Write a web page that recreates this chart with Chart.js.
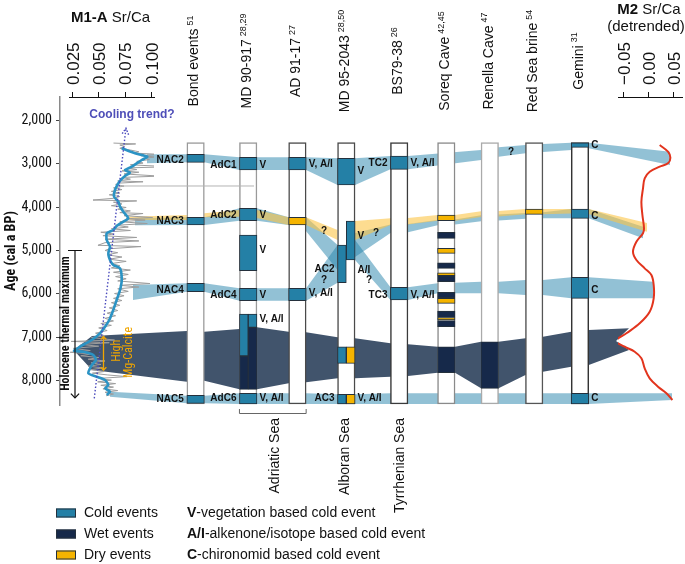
<!DOCTYPE html>
<html>
<head>
<meta charset="utf-8">
<script src="https://cdn.jsdelivr.net/npm/chart.js@4.4.1/dist/chart.umd.min.js"></script>
<style>
  html, body { margin: 0; padding: 0; background: #fff; }
  canvas { display: block; }
</style>
</head>
<body>
<canvas id="chart" width="685" height="564"></canvas>
<script>
// ---- data ----
const ageTicks = [2000, 3000, 4000, 5000, 6000, 7000, 8000];
const m1Ticks = [0.025, 0.05, 0.075, 0.1];
const m2Ticks = [-0.05, 0, 0.05];

const records = ['Bond events', 'MD 90-917', 'AD 91-17', 'MD 95-2043', 'BS79-38', 'Soreq Cave', 'Renella Cave', 'Red Sea brine', 'Gemini'];
const recordRefs = ['51', '28,29', '27', '28,50', '26', '42,45', '47', '54', '31'];
const recordSpan = [2520, 8530];
const seas = ['Adriatic Sea', 'Alboran Sea', 'Tyrrhenian Sea'];

// M1-A Sr/Ca, smoothed
const m1SmoothAge = [2651, 2766, 2844, 2920, 3074, 3149, 3212, 3287, 3418, 3609, 3764, 3878, 3993, 4108, 4260, 4338, 4437, 4529, 4605, 4759, 4913, 5065, 5219, 5334, 5410, 5678, 5908, 6138, 6368, 6598, 6752, 6904, 7058, 7212, 7304, 7327, 7403, 7518, 7633, 7824, 7902, 7977, 8092, 8168, 8246, 8322];
const m1Smooth = [0.0718, 0.0844, 0.0960, 0.0907, 0.0813, 0.0749, 0.0796, 0.0749, 0.0695, 0.0654, 0.0645, 0.0686, 0.0702, 0.0733, 0.0780, 0.0733, 0.0670, 0.0638, 0.0576, 0.0576, 0.0607, 0.0591, 0.0607, 0.0638, 0.0702, 0.0718, 0.0702, 0.0670, 0.0638, 0.0600, 0.0560, 0.0512, 0.0434, 0.0323, 0.0266, 0.0354, 0.0449, 0.0474, 0.0434, 0.0402, 0.0481, 0.0560, 0.0591, 0.0560, 0.0607, 0.0576];

// M1-A Sr/Ca, raw record
const m1RawAge = [2530, 2550, 2575, 2610, 2650, 2690, 2730, 2760, 2790, 2820, 2850, 2880, 2910, 2950, 2990, 3030, 3075, 3100, 3140, 3170, 3200, 3240, 3290, 3320, 3360, 3400, 3420, 3450, 3480, 3520, 3560, 3600, 3640, 3680, 3720, 3760, 3800, 3840, 3860, 3890, 3930, 3970, 4010, 4050, 4090, 4130, 4150, 4200, 4240, 4270, 4300, 4340, 4380, 4420, 4460, 4500, 4540, 4580, 4620, 4660, 4700, 4740, 4780, 4820, 4880, 4910, 4960, 5000, 5050, 5100, 5150, 5200, 5250, 5300, 5350, 5400, 5450, 5500, 5550, 5600, 5650, 5700, 5760, 5800, 5840, 5880, 5940, 5990, 6040, 6100, 6150, 6200, 6260, 6320, 6380, 6440, 6500, 6560, 6620, 6680, 6720, 6780, 6840, 6900, 6960, 7000, 7060, 7090, 7120, 7160, 7200, 7250, 7300, 7340, 7380, 7420, 7460, 7500, 7540, 7580, 7620, 7660, 7700, 7740, 7780, 7820, 7860, 7900, 7940, 7980, 8020, 8060, 8100, 8140, 8180, 8220, 8260, 8300, 8340];
const m1Raw = [0.0640, 0.0850, 0.0700, 0.0745, 0.0700, 0.0800, 0.0880, 0.0830, 0.1080, 0.0900, 0.1040, 0.0930, 0.0980, 0.0860, 0.0920, 0.0800, 0.1175, 0.0780, 0.0860, 0.0720, 0.0880, 0.0740, 0.1080, 0.0720, 0.0800, 0.0680, 0.0920, 0.0700, 0.0660, 0.0740, 0.0640, 0.0720, 0.0620, 0.0700, 0.0600, 0.0700, 0.0640, 0.0446, 0.0860, 0.0640, 0.0720, 0.0620, 0.0760, 0.0680, 0.0800, 0.0700, 0.0920, 0.0740, 0.1010, 0.0760, 0.0940, 0.0700, 0.0960, 0.0660, 0.0780, 0.0620, 0.0800, 0.0520, 0.0640, 0.0540, 0.0860, 0.0560, 0.0880, 0.0560, 0.0493, 0.0900, 0.0600, 0.0560, 0.0680, 0.0580, 0.0720, 0.0600, 0.0760, 0.0620, 0.0700, 0.0620, 0.0800, 0.0640, 0.0780, 0.0660, 0.0760, 0.0680, 0.0986, 0.0700, 0.0880, 0.0680, 0.0780, 0.0650, 0.0740, 0.0640, 0.0720, 0.0620, 0.0700, 0.0600, 0.0680, 0.0580, 0.0660, 0.0560, 0.0640, 0.0520, 0.0620, 0.0500, 0.0580, 0.0470, 0.0560, 0.0430, 0.0650, 0.0240, 0.0600, 0.0330, 0.0500, 0.0260, 0.0420, 0.0230, 0.0430, 0.0330, 0.0500, 0.0400, 0.0560, 0.0430, 0.0520, 0.0400, 0.0540, 0.0420, 0.0560, 0.0440, 0.0580, 0.0768, 0.0500, 0.0620, 0.0490, 0.0660, 0.0520, 0.0640, 0.0540, 0.0680, 0.0560, 0.0640, 0.0570];

// dotted "cooling trend?" line
const coolingAge = [8400, 2190];
const coolingSrCa = [0.0458, 0.0758];

// M2 Sr/Ca (detrended)
const m2Age = [2575, 2728, 2866, 2996, 3073, 3188, 3341, 3571, 3878, 4184, 4490, 4605, 4798, 5028, 5219, 5410, 5563, 5793, 6099, 6407, 6674, 6904, 7081, 7212, 7327, 7479, 7709, 7938, 8131, 8283, 8437];
const m2SrCa = [0.022, 0.0386, 0.0434, 0.0386, 0.022, 0.002, -0.008, -0.0114, -0.0146, -0.0126, -0.0094, -0.0114, -0.0246, -0.0314, -0.0246, -0.008, 0.0054, 0.010, 0.010, 0.002, -0.018, -0.0446, -0.066, -0.048, -0.028, -0.0146, -0.008, 0.002, 0.0186, 0.0354, 0.0474];

// events: [record, start age, end age, part]   part 0 = whole column, 1 = left half, 2 = right half
const coldEvents = [
  [0, 2789, 2973, 0], [0, 4237, 4414, 0], [0, 5755, 5947, 0], [0, 8330, 8513, 0],
  [1, 2858, 3150, 0], [1, 4030, 4315, 0], [1, 4644, 5465, 0], [1, 5870, 6155, 0], [1, 6460, 7426, 1], [1, 6460, 6767, 2], [1, 8283, 8529, 0],
  [2, 2858, 3150, 0], [2, 5870, 6155, 0],
  [3, 2881, 3494, 0], [3, 4874, 5741, 1], [3, 4322, 5219, 2], [3, 7212, 7594, 1], [3, 8306, 8529, 1],
  [4, 2828, 3134, 0], [4, 5847, 6138, 0],
  [8, 2522, 2628, 0], [8, 4046, 4260, 0], [8, 5617, 6100, 0], [8, 8283, 8529, 0]
];
const wetEvents = [
  [1, 7426, 8192, 1], [1, 6767, 8192, 2],
  [5, 4582, 4720, 0], [5, 5281, 5410, 0], [5, 5580, 5717, 0], [5, 5962, 6085, 0], [5, 6391, 6536, 0], [5, 6614, 6752, 0], [5, 7212, 7809, 0],
  [6, 7097, 8169, 0]
];
const dryEvents = [
  [2, 4237, 4414, 0],
  [3, 7212, 7594, 2], [3, 8306, 8529, 2],
  [5, 4185, 4315, 0], [5, 4950, 5065, 0], [5, 5511, 5580, 0], [5, 6099, 6214, 0], [5, 6545, 6598, 0],
  [7, 4046, 4168, 0]
];

// correlation bands: [anchor, upper age, lower age]
const bandNAC2 = [['S', 2789, 2996], ['L0', 2789, 2973], ['R0', 2789, 2973], ['L1', 2858, 3150], ['R1', 2858, 3150], ['L2', 2858, 3150], ['R2', 2858, 3150], ['L3', 2881, 3494], ['R3', 2881, 3494], ['L4', 2828, 3134], ['R4', 2828, 3134], ['L6', 2690, 2920], ['R6', 2628, 2844], ['L7', 2575, 2766], ['R7', 2552, 2736], ['L8', 2522, 2690], ['R8', 2522, 2650], ['E', 2728, 3035]];
const bandNAC3 = [['S', 4260, 4420], ['L0', 4237, 4414], ['R0', 4237, 4414], ['L1', 4030, 4315], ['R1', 4030, 4315], ['L2', 4237, 4414], ['R2', 4237, 4560], ['L3', 4874, 5450]];
const bandTC2 = [['R3', 4600, 5150], ['L4', 4400, 4600], ['R4', 4390, 4580], ['L5', 4300, 4420], ['R5', 4290, 4400], ['L6', 4190, 4330], ['R6', 4170, 4310], ['L7', 4140, 4270], ['R7', 4120, 4260], ['L8', 4046, 4260], ['R8', 4046, 4260], ['E', 4453, 4720]];
const bandNAC4 = [['S', 5793, 6138], ['L0', 5755, 5947], ['R0', 5755, 5947], ['L1', 5870, 6155], ['R1', 5870, 6155], ['L2', 5870, 6155], ['R2', 5870, 6155], ['L3', 4874, 5741]];
const bandTC3 = [['R3', 4759, 5219], ['L4', 5847, 6138], ['R4', 5847, 6138], ['L5', 5755, 5985], ['R5', 5740, 5985], ['L6', 5717, 5985], ['R6', 5717, 5985], ['L7', 5678, 6023], ['R7', 5678, 6023], ['L8', 5617, 6100], ['R8', 5617, 6100], ['E', 5717, 6100]];
const bandNAC5 = [['S', 8246, 8361], ['L0', 8338, 8513], ['R0', 8338, 8513], ['L1', 8283, 8529], ['R1', 8283, 8529], ['L2', 8283, 8529], ['R2', 8283, 8529], ['L3', 8306, 8529], ['R3', 8306, 8529], ['L4', 8283, 8529], ['R8', 8283, 8529], ['E', 8283, 8437]];
const bandDryLeft = [['S', 4223, 4300], ['L0', 4185, 4300], ['R0', 4145, 4237], ['L1', 4069, 4223], ['R1', 4069, 4250], ['L2', 4237, 4414], ['R2', 4237, 4414], ['L3', 4530, 4760]];
const bandDryRight = [['R3', 4322, 4760], ['L4', 4260, 4414], ['R4', 4250, 4400], ['L5', 4185, 4315], ['R5', 4185, 4315], ['L6', 4100, 4230], ['R6', 4090, 4220], ['L7', 4046, 4168], ['R7', 4046, 4168], ['L8', 4046, 4150], ['R8', 4046, 4160], ['E', 4368, 4568]];
const bandWet = [['S', 7290, 7300], ['S2', 6966, 7748], ['L0', 6851, 8017], ['R0', 6867, 7994], ['L1', 6805, 8192], ['R1', 6767, 8192], ['L2', 6867, 8054], ['R2', 6882, 8031], ['L3', 6996, 7939], ['R3', 7019, 7939], ['L4', 7135, 7901], ['R4', 7158, 7885], ['L5', 7212, 7809], ['R5', 7212, 7809], ['L6', 7097, 8169], ['R6', 7097, 8169], ['L7', 7019, 7862], ['R7', 6982, 7787], ['L8', 6867, 7672], ['R8', 6828, 7633], ['E', 6789, 7290], ['T', 7081, 7081]];

const markerAge = 3517;

// ---- layout (positions on the hidden x track, 1 unit = 1 px) ----
const colCenter = [195.6, 248.2, 297.4, 346.3, 399.2, 446.3, 489.8, 534.2, 580.0];
const colWidth = 17.5;
const colBorder = ['#9a9a9a', '#9a9a9a', '#4a4a4a', '#4a4a4a', '#3a3a3a', '#8a8a8a', '#aaaaaa', '#555555', '#333333'];
const bandEnds = {
  nac2: {S: 147, E: 670}, nac3: {S: 135}, tc2: {E: 643}, nac4: {S: 133}, tc3: {E: 653},
  nac5: {S: 110, E: 672}, dryL: {S: 128}, dryR: {E: 647}, wet: {S: 74, S2: 92, E: 629, T: 616}
};

const SANS = "'Liberation Sans', Arial, sans-serif";
const NARROW = "'Roboto Condensed', 'DejaVu Sans Condensed', 'Liberation Sans', sans-serif";
const COLD = '#2480a6', WET = '#16294a', DRY = '#f5b400';
const TOP_HEIGHT = 97;

function edgeX(key, ends) {
  if (ends && ends[key] !== undefined) return ends[key];
  const i = +key.slice(1);
  return colCenter[i] + (key[0] === 'L' ? -colWidth / 2 : colWidth / 2);
}

function bandPolygon(nodes, ends) {
  const top = nodes.map(n => ({x: edgeX(n[0], ends), y: n[1]}));
  const bottom = nodes.slice().reverse().map(n => ({x: edgeX(n[0], ends), y: n[2]}));
  return top.concat(bottom, [top[0]]);
}

function band(nodes, ends, color, order) {
  return {
    type: 'line', data: bandPolygon(nodes, ends), xAxisID: 'x', yAxisID: 'y',
    fill: 'shape', backgroundColor: color, borderColor: 'rgba(0,0,0,0)', borderWidth: 0,
    pointRadius: 0, order: order
  };
}

function boxes(list, half, color, order) {
  const items = list.filter(e => half ? e[3] > 0 : e[3] === 0);
  return {
    type: 'bar', xAxisID: 'x', yAxisID: 'y', order: order,
    data: items.map(e => ({
      x: colCenter[e[0]] + (e[3] === 1 ? -colWidth / 4 : e[3] === 2 ? colWidth / 4 : 0),
      y: [e[1], e[2]]
    })),
    backgroundColor: color, borderColor: '#24303c', borderWidth: 1, borderSkipped: false,
    barThickness: half ? colWidth / 2 : colWidth, grouped: false
  };
}

function curve(ages, values, axis, color, width, order, extra) {
  return Object.assign({
    type: 'line', xAxisID: axis, yAxisID: 'y',
    data: ages.map((a, i) => ({x: values[i], y: a})),
    borderColor: color, borderWidth: width, pointRadius: 0, fill: false, order: order
  }, extra || {});
}

const eventLabels = [
  ['NAC2', 'L0', 2936], ['NAC3', 'L0', 4338], ['NAC4', 'L0', 5908], ['NAC5', 'L0', 8414],
  ['AdC1', 'L1', 3035], ['AdC2', 'L1', 4184], ['AdC4', 'L1', 6023], ['AdC6', 'L1', 8398],
  ['V', 'R1', 3035], ['V', 'R1', 4184], ['V', 'R1', 4989], ['V', 'R1', 6023], ['V, A/I', 'R1', 6582], ['V, A/I', 'R1', 8398],
  ['V, A/I', 'R2', 3012], ['V, A/I', 'R2', 5977],
  ['V', 'R3', 3189], ['V', 'R3', 4683], ['A/I', 'R3', 5449], ['AC2', 'L3', 5437], ['AC3', 'L3', 8398], ['V, A/I', 'R3', 8398],
  ['TC2', 'L4', 2996], ['V, A/I', 'R4', 2996], ['TC3', 'L4', 6023], ['V, A/I', 'R4', 6023],
  ['C', 'R8', 2575], ['C', 'R8', 4207], ['C', 'R8', 5908], ['C', 'R8', 8391]
];
const questionMarks = [[324, 4568], [324, 5695], [376, 4598], [369, 5695], [511, 2736]];

function chevron(ctx, x, y, dx, dy, len, spread) {
  const a = Math.atan2(dy, dx);
  ctx.beginPath();
  ctx.moveTo(x - len * Math.cos(a - spread), y - len * Math.sin(a - spread));
  ctx.lineTo(x, y);
  ctx.lineTo(x - len * Math.cos(a + spread), y - len * Math.sin(a + spread));
  ctx.stroke();
}

function centerParts(ctx, parts, cx, cy) {
  let total = 0;
  parts.forEach(p => { ctx.font = p[1]; total += ctx.measureText(p[0]).width; });
  let xx = cx - total / 2;
  ctx.textAlign = 'left';
  ctx.textBaseline = 'middle';
  parts.forEach(p => { ctx.font = p[1]; ctx.fillText(p[0], xx, cy); xx += ctx.measureText(p[0]).width; });
}

function rotated(ctx, text, font, x, y, align, color) {
  ctx.save();
  ctx.translate(x, y);
  ctx.rotate(-Math.PI / 2);
  ctx.font = font;
  ctx.fillStyle = color || '#111';
  ctx.textAlign = align;
  ctx.textBaseline = 'middle';
  ctx.fillText(text, 0, 0);
  ctx.restore();
}

const figureText = {
  id: 'figureText',
  afterDraw(chart) {
    const {ctx} = chart;
    const xs = chart.scales.x, ys = chart.scales.y;
    const px = v => xs.getPixelForValue(v), py = a => ys.getPixelForValue(a);
    ctx.save();
    ctx.fillStyle = '#111';

    // panel titles
    centerParts(ctx, [['M1-A', 'bold 15px ' + SANS], [' Sr/Ca', '15px ' + SANS]], 110.5, 18);
    centerParts(ctx, [['M2', 'bold 15px ' + SANS], [' Sr/Ca', '15px ' + SANS]], 649, 10);
    centerParts(ctx, [['(detrended)', '15px ' + SANS]], 646, 27);

    // record headers
    records.forEach((name, i) => {
      ctx.font = '14px ' + SANS;
      const w1 = ctx.measureText(name).width;
      ctx.font = '9px ' + SANS;
      const w2 = ctx.measureText(recordRefs[i]).width;
      const total = w1 + 3 + w2;
      ctx.save();
      ctx.translate(px(colCenter[i]) - 1, 61 + total / 2);
      ctx.rotate(-Math.PI / 2);
      ctx.textAlign = 'left';
      ctx.textBaseline = 'middle';
      ctx.font = '14px ' + SANS;
      ctx.fillText(name, 0, 0);
      ctx.font = '9px ' + SANS;
      ctx.fillText(recordRefs[i], w1 + 3, -4);
      ctx.restore();
    });

    // seas below the columns
    const adL = px(edgeX('L1')), adR = px(edgeX('R2'));
    ctx.strokeStyle = '#666';
    ctx.lineWidth = 1;
    ctx.beginPath();
    ctx.moveTo(adL, 409); ctx.lineTo(adL, 413.5); ctx.lineTo(adR, 413.5); ctx.lineTo(adR, 409);
    ctx.stroke();
    rotated(ctx, seas[0], '14px ' + SANS, (adL + adR) / 2 + 2, 418, 'right');
    rotated(ctx, seas[1], '14px ' + SANS, px(colCenter[3]) - 1, 418, 'right');
    rotated(ctx, seas[2], '14px ' + SANS, px(colCenter[4]) + 1, 418, 'right');

    // event labels
    ctx.fillStyle = '#111';
    ctx.font = 'bold 10px ' + SANS;
    ctx.textBaseline = 'middle';
    eventLabels.forEach(l => {
      const left = l[1][0] === 'L';
      ctx.textAlign = left ? 'right' : 'left';
      ctx.fillText(l[0], px(edgeX(l[1])) + (left ? -3 : 2.5), py(l[2]));
    });
    ctx.textAlign = 'center';
    questionMarks.forEach(q => ctx.fillText('?', px(q[0]), py(q[1])));

    // cooling trend annotation
    const m1 = chart.scales.m1;
    const x0 = m1.getPixelForValue(coolingSrCa[0]), y0 = py(coolingAge[0]);
    const x1 = m1.getPixelForValue(coolingSrCa[1]), y1 = py(coolingAge[1]);
    ctx.strokeStyle = '#4b4bbd';
    ctx.lineWidth = 1.4;
    ctx.setLineDash([1.5, 1.5]);
    chevron(ctx, x1, y1, x1 - x0, y1 - y0, 7, 0.5);
    ctx.setLineDash([]);
    ctx.fillStyle = '#4e4eb8';
    ctx.font = 'bold 12px ' + SANS;
    ctx.textAlign = 'center';
    ctx.fillText('Cooling trend?', 132, 115);

    // Holocene thermal maximum arrow
    const hx = px(75);
    ctx.strokeStyle = '#111';
    ctx.lineWidth = 1.2;
    ctx.beginPath();
    ctx.moveTo(px(68), py(5000)); ctx.lineTo(px(82), py(5000));
    ctx.moveTo(hx, py(5000)); ctx.lineTo(hx, py(8390));
    ctx.stroke();
    chevron(ctx, hx, py(8390), 0, 1, 6, 0.75);
    rotated(ctx, 'Holocene thermal maximum', 'bold 12px ' + NARROW, px(65.5), py(6680), 'center', '#111');

    // High Mg-calcite
    const ox = px(103.5);
    ctx.strokeStyle = '#f0a500';
    ctx.lineWidth = 1.3;
    ctx.beginPath();
    ctx.moveTo(ox, py(6982)); ctx.lineTo(ox, py(7748));
    ctx.stroke();
    chevron(ctx, ox, py(6982), 0, -1, 4, 0.8);
    chevron(ctx, ox, py(7748), 0, 1, 4, 0.8);
    rotated(ctx, 'High', '12px ' + NARROW, px(116.5), py(7305), 'center', '#f0a500');
    rotated(ctx, 'Mg-Calcite', '12px ' + NARROW, px(129.3), py(7341), 'center', '#f0a500');

    // legend
    const rows = [[COLD, 'Cold events', 'V', '-vegetation based cold event'],
                  [WET, 'Wet events', 'A/I', '-alkenone/isotope based cold event'],
                  [DRY, 'Dry events', 'C', '-chironomid based cold event']];
    rows.forEach((r, i) => {
      const cy = 513 + i * 21;
      ctx.fillStyle = r[0];
      ctx.fillRect(56, cy - 4.5, 20, 9);
      ctx.strokeStyle = '#24303c';
      ctx.lineWidth = 1;
      ctx.strokeRect(56.5, cy - 4, 19, 8);
      ctx.fillStyle = '#111';
      ctx.textAlign = 'left';
      ctx.textBaseline = 'middle';
      ctx.font = '14px ' + SANS;
      ctx.fillText(r[1], 84, cy);
      ctx.font = 'bold 14px ' + SANS;
      ctx.fillText(r[2], 187, cy);
      const w = ctx.measureText(r[2]).width;
      ctx.font = '14px ' + SANS;
      ctx.fillText(r[3], 187 + w, cy);
    });
    ctx.restore();
  }
};

const datasets = [
  // bands (drawn first)
  band(bandWet, bandEnds.wet, '#41546c', 60),
  band(bandNAC2, bandEnds.nac2, 'rgba(38,132,172,0.5)', 55),
  band(bandNAC3, bandEnds.nac3, 'rgba(38,132,172,0.5)', 55),
  band(bandTC2, bandEnds.tc2, 'rgba(38,132,172,0.5)', 55),
  band(bandNAC4, bandEnds.nac4, 'rgba(38,132,172,0.5)', 55),
  band(bandTC3, bandEnds.tc3, 'rgba(38,132,172,0.5)', 55),
  band(bandNAC5, bandEnds.nac5, 'rgba(38,132,172,0.5)', 55),
  band(bandDryLeft, bandEnds.dryL, 'rgba(252,196,70,0.6)', 52),
  band(bandDryRight, bandEnds.dryR, 'rgba(252,196,70,0.6)', 52),
  // record columns
  {
    type: 'bar', xAxisID: 'x', yAxisID: 'y', order: 40,
    data: colCenter.map(c => ({x: c, y: recordSpan})),
    backgroundColor: '#ffffff', borderColor: colBorder, borderWidth: 1.5, borderSkipped: false,
    barThickness: colWidth, grouped: false
  },
  boxes(coldEvents, false, COLD, 30), boxes(coldEvents, true, COLD, 30),
  boxes(wetEvents, false, WET, 30), boxes(wetEvents, true, WET, 30),
  boxes(dryEvents, false, DRY, 30), boxes(dryEvents, true, DRY, 30),
  // curves
  curve(m1RawAge, m1Raw, 'm1', '#9d9d9d', 1, 22),
  curve(m1SmoothAge, m1Smooth, 'm1', '#2b93c4', 2.6, 20, {tension: 0.2}),
  curve(coolingAge, coolingSrCa, 'm1', '#4b4bbd', 1.4, 18, {borderDash: [1.5, 2]}),
  curve(m2Age, m2SrCa, 'm2', '#e2341d', 2, 20, {tension: 0.35}),
  {
    type: 'line', xAxisID: 'x', yAxisID: 'y', order: 19,
    data: [{x: 120, y: markerAge}, {x: 254, y: markerAge}],
    borderColor: '#b4b4b4', borderWidth: 1, pointRadius: 0, fill: false
  }
];

// every axis in the top stack gets the same fixed height and no side padding
function fixTopBox(s) {
  s.height = TOP_HEIGHT;
  s.paddingLeft = 0;
  s.paddingRight = 0;
}

function topAxis(weight, extra) {
  return Object.assign({
    type: 'linear', position: 'top', stack: 'top', stackWeight: weight,
    display: false, min: 0, max: 1, afterFit: fixTopBox
  }, extra || {});
}

const sratioAxis = (min, max, ticks, fmt) => ({
  display: true, min: min, max: max,
  afterBuildTicks: s => { s.ticks = ticks.map(v => ({value: v})); },
  ticks: {minRotation: 90, maxRotation: 90, autoSkip: false, callback: fmt,
          font: {family: SANS, size: 17}, color: '#111', padding: 7, labelOffset: 22},
  grid: {drawOnChartArea: false, tickLength: 5, color: '#111'},
  border: {color: '#111', width: 1}
});

new Chart(document.getElementById('chart'), {
  type: 'line',
  data: {datasets: datasets},
  options: {
    responsive: false,
    animation: false,
    events: [],
    devicePixelRatio: 1,
    layout: {padding: {left: 0, right: 0, top: 0, bottom: 159}},
    plugins: {legend: {display: false}, tooltip: {enabled: false}},
    scales: {
      x: {type: 'linear', min: 60, max: 685, display: false, offset: false},
      y: {
        type: 'linear', position: 'left', reverse: true, min: 1471, max: 8552,
        afterFit: s => { s.width = 60; },
        afterBuildTicks: s => { s.ticks = ageTicks.map(v => ({value: v})); },
        ticks: {callback: v => v.toLocaleString('en-US'), font: {family: NARROW, size: 14}, color: '#111', padding: 4},
        grid: {drawOnChartArea: false, tickLength: 4, color: '#444'},
        border: {color: '#8a8a8a', width: 1.5},
        title: {display: true, text: 'Age (cal a BP)', font: {family: NARROW, size: 14, weight: 'bold'}, color: '#111', padding: {top: 3, bottom: 0}}
      },
      // top axes are laid out right to left, so the rightmost comes first
      pad2: topAxis(3),
      m2: topAxis(64, sratioAxis(-0.0614, 0.0666, m2Ticks, v => (v < 0 ? '\u2212' : '') + Math.abs(v).toFixed(2))),
      gap: topAxis(464),
      m1: topAxis(85, sratioAxis(0.02187, 0.10236, m1Ticks, v => v.toFixed(3))),
      pad1: topAxis(9)
    }
  },
  plugins: [figureText]
});
</script>
</body>
</html>
